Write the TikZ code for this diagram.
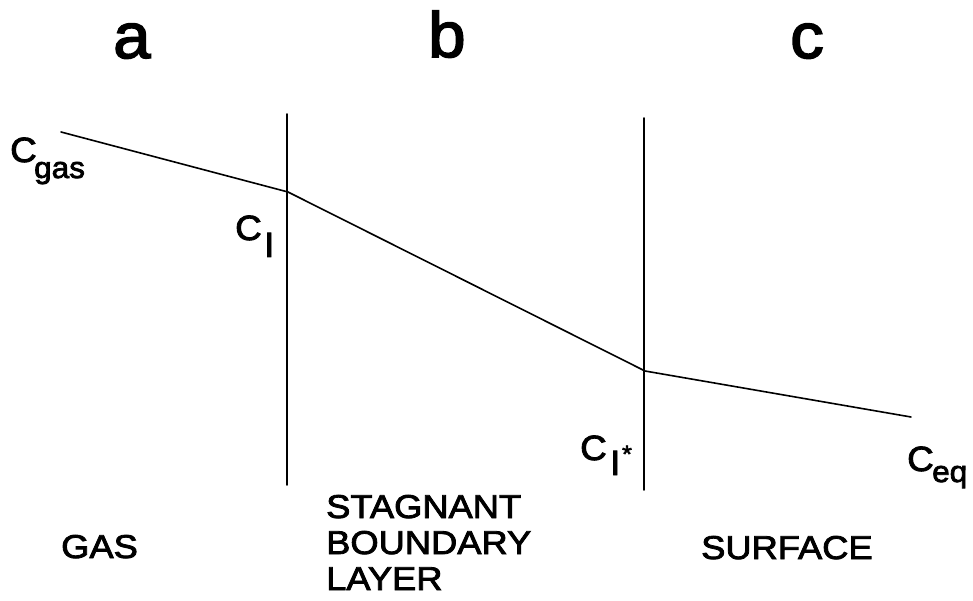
\documentclass[tikz,border=0pt]{standalone}
\usepackage{fontspec}
\setmainfont{Liberation Sans}
\newfontfamily\lblfont{Liberation Sans}[FakeStretch=1.1,FakeBold=2.5]
\newfontfamily\hdfont{Liberation Sans}[FakeStretch=1.05,FakeBold=2.5]
\begin{document}
\begin{tikzpicture}[x=1pt,y=-1pt,
  ln/.style={line width=1.6pt,line cap=round},
  head/.style={inner sep=0pt,anchor=base west,font=\hdfont\fontsize{64}{64}\selectfont},
  lab/.style={inner sep=0pt,anchor=base west,font=\lblfont\fontsize{33}{33}\selectfont},
  cl/.style={inner sep=0pt,anchor=base west,font=\hdfont\fontsize{35}{35}\selectfont},
  sub/.style={inner sep=0pt,anchor=base west,font=\hdfont\fontsize{30}{30}\selectfont}]
\useasboundingbox (0,0) rectangle (973,601);
% boundaries
\coordinate (v1t) at (287,114); \coordinate (v1b) at (287,485);
\coordinate (v2t) at (644,118); \coordinate (v2b) at (644,490);
\draw[ln] (v1t) -- (v1b);
\draw[ln] (v2t) -- (v2b);
% concentration profile
\coordinate (p0) at (61,132);
\coordinate (p1) at (288,192);
\coordinate (p2) at (645,371);
\coordinate (p3) at (911,417);
\draw[ln,line join=round] (p0) -- (p1) -- (p2) -- (p3);
% headings
\node[head] (ha) at (113,58) {a};
\node[head] (hb) at (428,57) {b};
\node[head] (hc) at (790,58) {c};
% concentration labels
\node[cl] (cg) at (10,162) {C};
\node[sub] (cgs) at (34,178) {gas};
\node[cl] (ci) at (235,240) {C};
\node[cl] (cis) at (264,257) {I};
\node[cl] (cs) at (580,460) {C};
\node[cl] (css) at (610,475) {I};
\node[inner sep=0pt,font=\hdfont\fontsize{24}{24}\selectfont] (cst) at (627,454) {*};
\node[cl] (ce) at (907,471) {C};
\node[sub] (ces) at (932,482) {eq};
% region labels
\node[lab] (gas) at (61,558) {GAS};
\node[lab] (sbl) at (326,518) {STAGNANT};
\node[lab] (sbl2) at (326,554) {BOUNDARY};
\node[lab] (sbl3) at (326,590) {LAYER};
\node[lab] (surf) at (701,559) {SURFACE};
\end{tikzpicture}
\end{document}
